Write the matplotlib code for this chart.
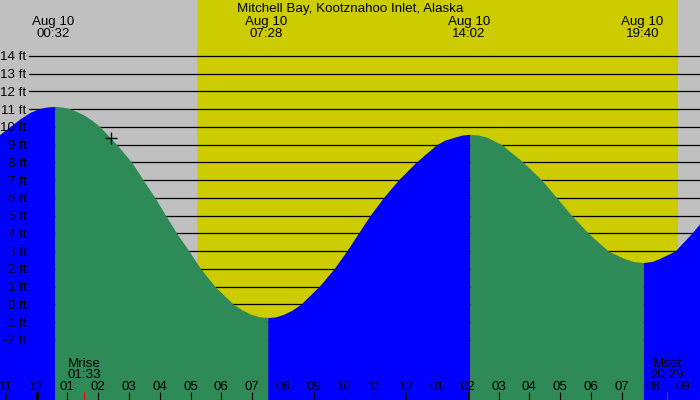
import numpy as np
import matplotlib
matplotlib.use("Agg")
import matplotlib.pyplot as plt
from matplotlib import transforms

# ---------------- data ----------------
title = "Mitchell Bay, Kootznahoo Inlet, Alaska"
date_label = "Aug 10"
extreme_times = ["00:32", "07:28", "14:02", "19:40"]
extreme_ft = [11.15, -0.75, 9.58, 2.35]

sunrise = "05:13"
sunset = "20:49"
moon_labels = ["Mrise", "Mset"]
moon_times = ["01:33", "20:29"]

# tide height (ft), hours since midnight Aug 10
tide_hours = [-1.50, -1.185, -0.536, -0.200, 0.114, 0.350, 0.600, 0.850,
              1.088, 1.330, 1.575, 1.820, 2.062, 2.604,
              3.091, 3.468, 3.847, 4.195, 4.552, 4.951, 5.331, 5.795, 6.390,
              6.660, 6.932, 7.220, 7.506, 7.760, 8.013, 8.290, 8.578, 9.172,
              9.659, 10.071, 10.448, 10.828,
              11.260, 11.747, 12.321, 12.994, 13.260, 13.532, 13.805, 14.075,
              14.344, 14.617, 15.100, 15.805, 16.403, 16.890, 17.377, 17.916,
              18.565, 19.052, 19.380, 19.701, 20.000, 20.244, 20.731, 21.273,
              21.542, 21.800]
tide_ft = [9.03, 9.58, 10.45, 10.82, 11.04, 11.12, 11.15, 11.11,
           11.02, 10.84, 10.63, 10.34, 10.00, 9.00,
           8.00, 7.00, 6.00, 5.00, 4.00, 3.00, 2.00, 1.00, 0.00,
           -0.30, -0.54, -0.70, -0.75, -0.71, -0.57, -0.34, 0.00, 1.00,
           2.00, 3.00, 4.00, 5.00,
           6.00, 7.00, 8.00, 9.00, 9.25, 9.39, 9.53, 9.58,
           9.54, 9.42, 9.00, 8.00, 7.00, 6.00, 5.00, 4.00,
           3.00, 2.60, 2.41, 2.35, 2.42, 2.59, 3.00, 4.00,
           4.56, 5.10]

cursor_hour = 2.42
cursor_ft = 9.37

ft_levels = list(range(-2, 15))
hour_ticks = list(range(-1, 22))
hour_tick_labels = ["11", "12", "01", "02", "03", "04", "05", "06", "07", "08",
                    "09", "10", "11", "12", "01", "02", "03", "04", "05", "06",
                    "07", "08", "09"]


def to_hours(s):
    hh, mm = s.split(":")
    return int(hh) + int(mm) / 60.0


# ---------------- style ----------------
W, H = 700, 400
BG = "#C0C0C0"
DAY = "#CCCC00"
RISE = "#0000FF"
FALL = "#2E8B57"
FONT = dict(family="Liberation Sans", size=9.6, color="black")

PX_PER_HR = 30.8
X0_PX = 36.5          # pixel of midnight
PX_PER_FT = 17.75
Y0_PX = 304.3         # pixel of 0 ft

fig = plt.figure(figsize=(W / 100, H / 100), dpi=100)
fig.patch.set_facecolor(BG)
ax = fig.add_axes([0, 0, 1, 1])
ax.set_facecolor(BG)
ax.set_xlim((0 - X0_PX) / PX_PER_HR, (W - X0_PX) / PX_PER_HR)
ax.set_ylim((Y0_PX - H) / PX_PER_FT, Y0_PX / PX_PER_FT)
ax.axis("off")
ybot = ax.get_ylim()[0]

# daylight
ax.axvspan(to_hours(sunrise), to_hours(sunset), color=DAY, lw=0, zorder=1)

# grid lines
for v in ft_levels:
    ax.axhline(v, xmin=29 / W, xmax=1, color="black", lw=0.9, zorder=2)

# tide fill, blue when rising, green when falling
t = np.array(tide_hours)
h = np.array(tide_ft)
d = np.sign(np.diff(h))
start = 0
for i in range(1, len(d) + 1):
    if i == len(d) or d[i] != d[start]:
        col = RISE if d[start] > 0 else FALL
        ax.fill_between(t[start:i + 1], h[start:i + 1], ybot - 1,
                        color=col, lw=0, zorder=3)
        start = i

ax.plot([cursor_hour], [cursor_ft], marker="+", color="black", ms=9, mew=1,
        zorder=5)

# y labels
ytr = transforms.blended_transform_factory(ax.transAxes, ax.transData)
ytr = ytr + transforms.ScaledTranslation(0, -4.6 / 100, fig.dpi_scale_trans)
for v in ft_levels:
    ax.text(26.5 / W, v, f"{v} ft", transform=ytr, ha="right", va="baseline",
            zorder=6, **FONT)

# bottom hour ticks
xtr = transforms.blended_transform_factory(ax.transData, ax.transAxes)
for hr, lab in zip(hour_ticks, hour_tick_labels):
    lw = 2.2 if hr == 0 else 0.8
    ax.plot([hr, hr], [0, 8.5 / H], transform=xtr, color="black", lw=lw,
            solid_capstyle="butt", zorder=6, clip_on=False)
    ax.text(hr, 1 - 390 / H, lab, transform=xtr, ha="center", va="baseline",
            zorder=6, **FONT)

# moon rise / set
for lab, tm in zip(moon_labels, moon_times):
    hr = to_hours(tm)
    ax.plot([hr, hr], [0, 8.5 / H], transform=xtr, color="red", lw=0.8,
            solid_capstyle="butt", zorder=6)
    ax.text(hr, 1 - 366.7 / H, lab, transform=xtr, ha="center",
            va="baseline", zorder=6, **FONT)
    ax.text(hr, 1 - 378.3 / H, tm, transform=xtr, ha="center",
            va="baseline", zorder=6, **FONT)

# top labels
for tm in extreme_times:
    hr = to_hours(tm)
    ax.text(hr, 1 - 25 / H, date_label, transform=xtr, ha="center",
            va="baseline", zorder=6, **FONT)
    ax.text(hr, 1 - 36.7 / H, tm, transform=xtr, ha="center",
            va="baseline", zorder=6, **FONT)

ax.text(0.5, 1 - 12.3 / H, title, transform=ax.transAxes, ha="center",
        va="baseline", zorder=6, **FONT)

fig.savefig("out.png", dpi=100, facecolor=BG)
